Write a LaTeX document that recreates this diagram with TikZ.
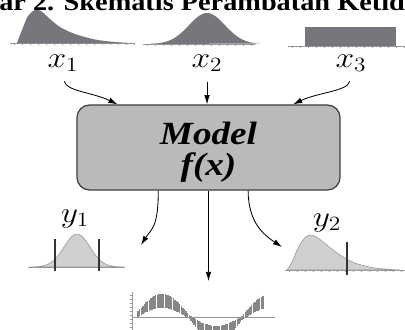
\documentclass[tikz,border=0pt]{standalone}
\usepackage{fontspec}
\setmainfont{Liberation Serif}
\usetikzlibrary{arrows.meta,positioning,calc}
\definecolor{distgelap}{RGB}{118,118,124}
\definecolor{distterang}{RGB}{208,208,208}
\definecolor{kotakabu}{RGB}{186,186,186}
\definecolor{garisabu}{RGB}{150,150,150}
\definecolor{pitaabu}{RGB}{135,135,135}
\newcommand{\lebar}[1]{\scalebox{1.15}[1]{#1}}
\newcommand{\varsub}[2]{\lebar{$#1_{#2}$}}
\newcommand{\turunkan}[1]{\raisebox{0pt}[\dimexpr\height+8pt\relax][\depth]{#1}}
\tikzset{
  modelbox/.style={
    rectangle, rounded corners=9pt, draw=black!75, line width=0.9pt,
    fill=kotakabu, minimum width=6.575cm, minimum height=2.125cm,
    font=\fontsize{23}{19.5}\selectfont\bfseries\itshape
  },
  varlabel/.style={inner sep=1pt, font=\fontsize{20}{22}\selectfont},
  flowarrow/.style={-{Latex[length=6.5pt,width=4pt]}, line width=0.6pt, black},
  baseaxis/.style={garisabu, line width=0.5pt},
  cutline/.style={black!80, line width=0.9pt},
  bandline/.style={pitaabu, line width=1pt}
}
\begin{document}
\begin{tikzpicture}[x=0.025cm, y=-0.025cm]
  \useasboundingbox (0,0) rectangle (405,329);
  \clip (0,0) rectangle (405,329);

  % Judul (terpotong di atas)
  \node[font=\fontsize{17.5}{20}\selectfont\bfseries, anchor=base west, inner sep=0pt]
    (judul) at (-1,11) {\lebar{ar 2. Skematis Perambatan Ketid}};

  % Distribusi masukan
  \draw[baseaxis] (10,43) -- (135,43);
  \foreach \t in {14,22,...,134}
    \draw[baseaxis] (\t,43) -- (\t,44.5);
  \fill[distgelap] plot[smooth] coordinates {(17,43) (22,30) (28,16) (35,10) (41,11)
    (50,19) (60,27) (75,34) (95,39.5) (115,42) (132,43)} -- cycle;

  \draw[baseaxis] (143,44) -- (255,44);
  \foreach \t in {147,155,...,254}
    \draw[baseaxis] (\t,44) -- (\t,45.5);
  \fill[distgelap] plot[domain=150:262, samples=60]
    (\x,{44-31*exp(-0.5*((\x-207)/18)^2)}) -- cycle;

  \draw[baseaxis] (288,46) -- (405,46);
  \foreach \t in {292,300,...,404}
    \draw[baseaxis] (\t,46) -- (\t,47.5);
  \fill[distgelap] (305,27) rectangle (396,46);

  % Label variabel
  \node[varlabel, anchor=base] (lx1) at (63,67) {\varsub{x}{1}};
  \node[varlabel, anchor=base] (lx2) at (207,67) {\varsub{x}{2}};
  \node[varlabel, anchor=base] (lx3) at (351,67) {\varsub{x}{3}};

  % Kotak model
  \node[modelbox] (model) at (208.5,147.5)
    {\turunkan{\begin{tabular}{@{}c@{}}\lebar{Model}\\\lebar{f(x)}\end{tabular}}};

  \coordinate (masuk1) at ($(model.north west)!0.156!(model.north east)$);
  \coordinate (masuk3) at ($(model.north west)!0.82!(model.north east)$);
  \coordinate (keluar1) at ($(model.south west)!0.31!(model.south east)$);
  \coordinate (keluar3) at ($(model.south west)!0.65!(model.south east)$);
  \coordinate (ujung1) at (141,245);
  \coordinate (ujung2) at (208.5,281);
  \coordinate (ujung3) at (282,247);

  % Panah
  \draw[flowarrow, shorten <=6pt] (lx1.south) .. controls +(3,18) and +(-25,-12) .. (masuk1);
  \draw[flowarrow, shorten <=6pt] (lx2.south) -- (lx2.south |- model.north);
  \draw[flowarrow, shorten <=6pt] (lx3.south) .. controls +(-3,18) and +(25,-12) .. (masuk3);
  \draw[flowarrow] (keluar1) .. controls +(0,38) and +(10,-16) .. (ujung1);
  \draw[flowarrow] (model.south) -- (ujung2);
  \draw[flowarrow] (keluar3) .. controls +(0,32) and +(-18,-12) .. (ujung3);

  % Distribusi keluaran
  \node[varlabel, anchor=base] (ly1) at (75,222) {\varsub{y}{1}};
  \node[varlabel, anchor=base] (ly2) at (327,226) {\varsub{y}{2}};

  \draw[baseaxis] (28,267) -- (125,267);
  \filldraw[fill=distterang, draw=garisabu, line width=0.4pt]
    plot[domain=30:124, samples=60] (\x,{267-33*exp(-0.5*((\x-77)/13)^2)}) -- cycle;
  \draw[cutline] (55,239) -- (55,271);
  \draw[cutline] (99,239) -- (99,271);

  \draw[baseaxis] (285,270) -- (405,270);
  \foreach \t in {289,297,...,404}
    \draw[baseaxis] (\t,270) -- (\t,271.5);
  \filldraw[fill=distterang, draw=garisabu, line width=0.4pt]
    plot[smooth] coordinates {(287,270) (292,262) (298,248) (305,237.5) (311,235)
    (318,238) (328,246) (340,255) (355,263) (375,268) (400,270)} -- cycle;
  \draw[cutline] (347,242) -- (347,275);

  % Grafik pita
  \draw[baseaxis] (132,292) -- (132,335);
  \foreach \t in {295,299,...,327}
    \draw[baseaxis] (129.5,\t) -- (132,\t);
  \foreach \s in {138,139.6,...,263}
    \draw[bandline]
      (\s,{317-16*sin((\s-135)*10/3)-(2+5*abs(sin((\s-135)*10/3)))}) --
      (\s,{317-16*sin((\s-135)*10/3)+(2+5*abs(sin((\s-135)*10/3)))});
  \draw[baseaxis] (132,317) -- (275,317);
\end{tikzpicture}
\end{document}
